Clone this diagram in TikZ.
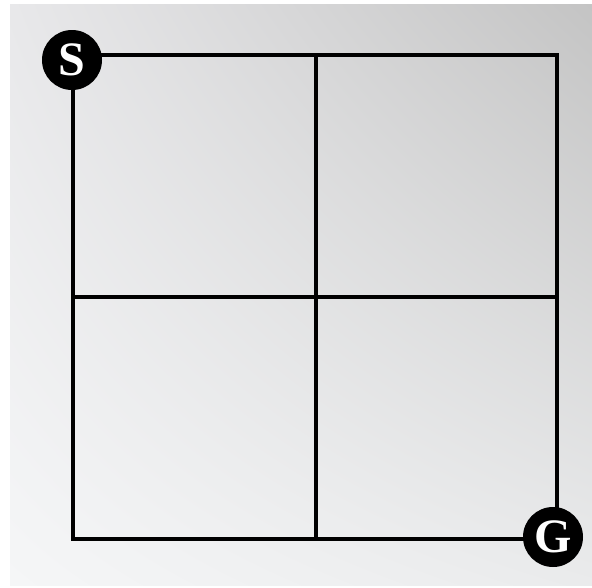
\documentclass[tikz,border=0pt]{standalone}
\usepackage{fontspec}
\setmainfont{Liberation Serif}
\usetikzlibrary{shadings}
\definecolor{bgul}{RGB}{232,232,234}
\definecolor{bgur}{RGB}{196,196,196}
\definecolor{bgll}{RGB}{245,246,247}
\definecolor{bglr}{RGB}{234,235,236}
\begin{document}
\begin{tikzpicture}[x=1pt,y=-1pt,
  gridline/.style={line width=4.5pt,black},
  endpt/.style={circle,fill=black,minimum size=60pt,inner sep=0pt,text=white,font=\bfseries\fontsize{48}{48}\selectfont}]
\useasboundingbox (0,0) rectangle (592,587);
\fill[white] (0,0) rectangle (592,587);
\shade[upper left=bgul,upper right=bgur,lower left=bgll,lower right=bglr] (10,4) rectangle (592,585);
\coordinate (tl) at (73,55);
\coordinate (tm) at (316,55);
\coordinate (tr) at (557,55);
\coordinate (ml) at (73,297);
\coordinate (mr) at (557,297);
\coordinate (bl) at (73,539);
\coordinate (bm) at (316,539);
\coordinate (br) at (557,539);
\draw[gridline] (tl) -- (tr) -- (br) -- (bl) -- cycle;
\draw[gridline] (tm) -- (bm);
\draw[gridline] (ml) -- (mr);
\node[endpt] (S) at (72,60) {S};
\node[endpt] (G) at (553,537) {G};
\end{tikzpicture}
\end{document}
